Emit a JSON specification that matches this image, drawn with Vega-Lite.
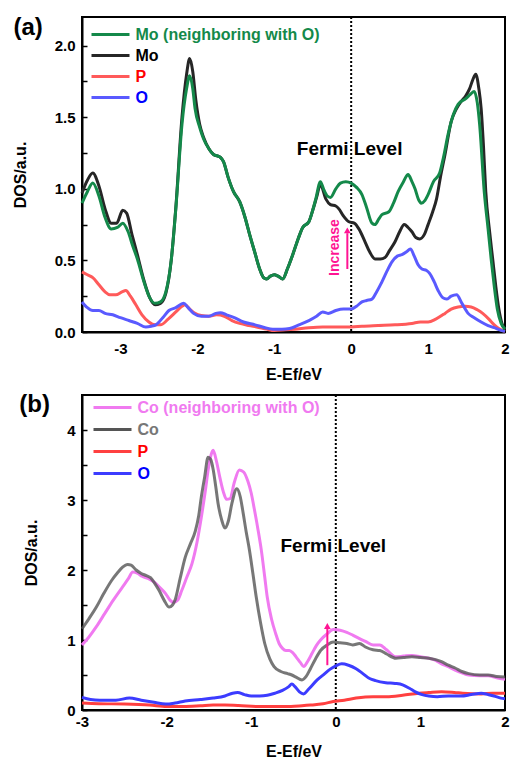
{
"$schema": "https://vega.github.io/schema/vega-lite/v6.json",
"padding": {"left": 11, "top": 15, "right": 4, "bottom": 0},
"spacing": 8,
"resolve": {"scale": {"color": "independent"}, "legend": {"color": "independent"}},
"config": {
  "font": "Liberation Sans",
  "view": {"stroke": "#000", "strokeWidth": 2},
  "axis": {"grid": false, "domainColor": "#000", "domainWidth": 2, "labelFont": "Liberation Sans", "labelFontWeight": "bold", "labelFontSize": 15, "labelColor": "#000", "titleFont": "Liberation Sans", "titleFontWeight": "bold", "titleFontSize": 16, "titleColor": "#000", "tickColor": "#000", "tickWidth": 1.5},
  "legend": {"title": null, "symbolType": "M-2,0L2,0", "symbolStrokeWidth": 3, "symbolSize": 361, "labelFont": "Liberation Sans", "labelFontSize": 16, "labelFontWeight": "bold", "labelLimit": 400, "labelOffset": 14, "padding": 0, "orient": "none"}
},
"datasets": {
"a": [
{"s":"MoO","x":-3.5,"y":0.90},{"s":"MoO","x":-3.43,"y":0.98},{"s":"MoO","x":-3.36,"y":1.04},{"s":"MoO","x":-3.28,"y":0.95},{"s":"MoO","x":-3.2,"y":0.80},{"s":"MoO","x":-3.12,"y":0.72},{"s":"MoO","x":-3.04,"y":0.73},{"s":"MoO","x":-2.97,"y":0.76},{"s":"MoO","x":-2.9,"y":0.70},{"s":"MoO","x":-2.84,"y":0.60},{"s":"MoO","x":-2.78,"y":0.51},{"s":"MoO","x":-2.7,"y":0.36},{"s":"MoO","x":-2.62,"y":0.24},{"s":"MoO","x":-2.55,"y":0.20},{"s":"MoO","x":-2.48,"y":0.21},{"s":"MoO","x":-2.41,"y":0.28},{"s":"MoO","x":-2.34,"y":0.50},{"s":"MoO","x":-2.28,"y":0.86},{"s":"MoO","x":-2.2,"y":1.45},{"s":"MoO","x":-2.14,"y":1.70},{"s":"MoO","x":-2.1,"y":1.79},{"s":"MoO","x":-2.06,"y":1.70},{"s":"MoO","x":-2.03,"y":1.56},{"s":"MoO","x":-1.97,"y":1.43},{"s":"MoO","x":-1.92,"y":1.35},{"s":"MoO","x":-1.85,"y":1.28},{"s":"MoO","x":-1.79,"y":1.24},{"s":"MoO","x":-1.74,"y":1.23},{"s":"MoO","x":-1.7,"y":1.22},{"s":"MoO","x":-1.66,"y":1.19},{"s":"MoO","x":-1.6,"y":1.08},{"s":"MoO","x":-1.53,"y":0.98},{"s":"MoO","x":-1.45,"y":0.91},{"s":"MoO","x":-1.38,"y":0.80},{"s":"MoO","x":-1.32,"y":0.68},{"s":"MoO","x":-1.25,"y":0.55},{"s":"MoO","x":-1.19,"y":0.44},{"s":"MoO","x":-1.14,"y":0.38},{"s":"MoO","x":-1.1,"y":0.37},{"s":"MoO","x":-1.05,"y":0.39},{"s":"MoO","x":-1.0,"y":0.40},{"s":"MoO","x":-0.95,"y":0.39},{"s":"MoO","x":-0.89,"y":0.37},{"s":"MoO","x":-0.83,"y":0.44},{"s":"MoO","x":-0.76,"y":0.54},{"s":"MoO","x":-0.69,"y":0.65},{"s":"MoO","x":-0.63,"y":0.73},{"s":"MoO","x":-0.55,"y":0.77},{"s":"MoO","x":-0.5,"y":0.85},{"s":"MoO","x":-0.46,"y":0.93},{"s":"MoO","x":-0.4,"y":1.05},{"s":"MoO","x":-0.36,"y":1.0},{"s":"MoO","x":-0.31,"y":0.95},{"s":"MoO","x":-0.27,"y":0.94},{"s":"MoO","x":-0.2,"y":1.0},{"s":"MoO","x":-0.14,"y":1.04},{"s":"MoO","x":-0.07,"y":1.05},{"s":"MoO","x":0.0,"y":1.04},{"s":"MoO","x":0.07,"y":1.01},{"s":"MoO","x":0.14,"y":0.96},{"s":"MoO","x":0.2,"y":0.87},{"s":"MoO","x":0.27,"y":0.76},{"s":"MoO","x":0.31,"y":0.75},{"s":"MoO","x":0.36,"y":0.79},{"s":"MoO","x":0.4,"y":0.82},{"s":"MoO","x":0.49,"y":0.84},{"s":"MoO","x":0.55,"y":0.90},{"s":"MoO","x":0.61,"y":0.98},{"s":"MoO","x":0.68,"y":1.05},{"s":"MoO","x":0.74,"y":1.10},{"s":"MoO","x":0.79,"y":1.05},{"s":"MoO","x":0.83,"y":1.0},{"s":"MoO","x":0.88,"y":0.92},{"s":"MoO","x":0.91,"y":0.90},{"s":"MoO","x":0.96,"y":0.92},{"s":"MoO","x":1.0,"y":0.96},{"s":"MoO","x":1.07,"y":1.05},{"s":"MoO","x":1.15,"y":1.11},{"s":"MoO","x":1.2,"y":1.22},{"s":"MoO","x":1.26,"y":1.38},{"s":"MoO","x":1.33,"y":1.52},{"s":"MoO","x":1.39,"y":1.59},{"s":"MoO","x":1.49,"y":1.63},{"s":"MoO","x":1.55,"y":1.66},{"s":"MoO","x":1.6,"y":1.68},{"s":"MoO","x":1.64,"y":1.60},{"s":"MoO","x":1.67,"y":1.45},{"s":"MoO","x":1.73,"y":0.98},{"s":"MoO","x":1.78,"y":0.72},{"s":"MoO","x":1.82,"y":0.51},{"s":"MoO","x":1.86,"y":0.32},{"s":"MoO","x":1.9,"y":0.16},{"s":"MoO","x":1.95,"y":0.06},{"s":"MoO","x":2.0,"y":0.02},
{"s":"Mo","x":-3.5,"y":0.97},{"s":"Mo","x":-3.43,"y":1.06},{"s":"Mo","x":-3.36,"y":1.11},{"s":"Mo","x":-3.28,"y":1.02},{"s":"Mo","x":-3.2,"y":0.86},{"s":"Mo","x":-3.12,"y":0.76},{"s":"Mo","x":-3.05,"y":0.76},{"s":"Mo","x":-2.97,"y":0.85},{"s":"Mo","x":-2.92,"y":0.83},{"s":"Mo","x":-2.85,"y":0.68},{"s":"Mo","x":-2.78,"y":0.54},{"s":"Mo","x":-2.7,"y":0.37},{"s":"Mo","x":-2.62,"y":0.24},{"s":"Mo","x":-2.55,"y":0.19},{"s":"Mo","x":-2.48,"y":0.20},{"s":"Mo","x":-2.41,"y":0.27},{"s":"Mo","x":-2.34,"y":0.50},{"s":"Mo","x":-2.28,"y":0.87},{"s":"Mo","x":-2.2,"y":1.50},{"s":"Mo","x":-2.14,"y":1.80},{"s":"Mo","x":-2.1,"y":1.91},{"s":"Mo","x":-2.06,"y":1.82},{"s":"Mo","x":-2.02,"y":1.62},{"s":"Mo","x":-1.97,"y":1.45},{"s":"Mo","x":-1.92,"y":1.36},{"s":"Mo","x":-1.85,"y":1.28},{"s":"Mo","x":-1.79,"y":1.24},{"s":"Mo","x":-1.74,"y":1.23},{"s":"Mo","x":-1.7,"y":1.22},{"s":"Mo","x":-1.66,"y":1.19},{"s":"Mo","x":-1.6,"y":1.08},{"s":"Mo","x":-1.53,"y":0.98},{"s":"Mo","x":-1.45,"y":0.91},{"s":"Mo","x":-1.38,"y":0.80},{"s":"Mo","x":-1.32,"y":0.68},{"s":"Mo","x":-1.25,"y":0.55},{"s":"Mo","x":-1.19,"y":0.44},{"s":"Mo","x":-1.14,"y":0.38},{"s":"Mo","x":-1.1,"y":0.37},{"s":"Mo","x":-1.05,"y":0.39},{"s":"Mo","x":-1.0,"y":0.40},{"s":"Mo","x":-0.95,"y":0.39},{"s":"Mo","x":-0.89,"y":0.37},{"s":"Mo","x":-0.83,"y":0.44},{"s":"Mo","x":-0.76,"y":0.54},{"s":"Mo","x":-0.69,"y":0.65},{"s":"Mo","x":-0.63,"y":0.73},{"s":"Mo","x":-0.55,"y":0.77},{"s":"Mo","x":-0.5,"y":0.85},{"s":"Mo","x":-0.45,"y":0.94},{"s":"Mo","x":-0.4,"y":1.03},{"s":"Mo","x":-0.33,"y":0.93},{"s":"Mo","x":-0.27,"y":0.89},{"s":"Mo","x":-0.2,"y":0.88},{"s":"Mo","x":-0.16,"y":0.86},{"s":"Mo","x":-0.1,"y":0.81},{"s":"Mo","x":-0.03,"y":0.77},{"s":"Mo","x":0.04,"y":0.76},{"s":"Mo","x":0.1,"y":0.72},{"s":"Mo","x":0.18,"y":0.63},{"s":"Mo","x":0.24,"y":0.56},{"s":"Mo","x":0.31,"y":0.51},{"s":"Mo","x":0.38,"y":0.51},{"s":"Mo","x":0.44,"y":0.52},{"s":"Mo","x":0.5,"y":0.57},{"s":"Mo","x":0.57,"y":0.63},{"s":"Mo","x":0.63,"y":0.70},{"s":"Mo","x":0.69,"y":0.75},{"s":"Mo","x":0.74,"y":0.73},{"s":"Mo","x":0.79,"y":0.70},{"s":"Mo","x":0.84,"y":0.66},{"s":"Mo","x":0.89,"y":0.65},{"s":"Mo","x":0.95,"y":0.68},{"s":"Mo","x":1.0,"y":0.75},{"s":"Mo","x":1.06,"y":0.84},{"s":"Mo","x":1.11,"y":0.93},{"s":"Mo","x":1.16,"y":1.08},{"s":"Mo","x":1.22,"y":1.24},{"s":"Mo","x":1.3,"y":1.47},{"s":"Mo","x":1.37,"y":1.56},{"s":"Mo","x":1.43,"y":1.61},{"s":"Mo","x":1.49,"y":1.65},{"s":"Mo","x":1.54,"y":1.70},{"s":"Mo","x":1.58,"y":1.76},{"s":"Mo","x":1.62,"y":1.80},{"s":"Mo","x":1.66,"y":1.70},{"s":"Mo","x":1.69,"y":1.56},{"s":"Mo","x":1.72,"y":1.30},{"s":"Mo","x":1.75,"y":0.98},{"s":"Mo","x":1.8,"y":0.70},{"s":"Mo","x":1.84,"y":0.51},{"s":"Mo","x":1.88,"y":0.32},{"s":"Mo","x":1.92,"y":0.16},{"s":"Mo","x":1.96,"y":0.06},{"s":"Mo","x":2.0,"y":0.02},
{"s":"O","x":-3.5,"y":0.21},{"s":"O","x":-3.43,"y":0.17},{"s":"O","x":-3.36,"y":0.15},{"s":"O","x":-3.28,"y":0.15},{"s":"O","x":-3.2,"y":0.13},{"s":"O","x":-3.1,"y":0.12},{"s":"O","x":-3.0,"y":0.10},{"s":"O","x":-2.89,"y":0.08},{"s":"O","x":-2.78,"y":0.06},{"s":"O","x":-2.67,"y":0.035},{"s":"O","x":-2.6,"y":0.04},{"s":"O","x":-2.54,"y":0.05},{"s":"O","x":-2.45,"y":0.10},{"s":"O","x":-2.37,"y":0.15},{"s":"O","x":-2.28,"y":0.17},{"s":"O","x":-2.18,"y":0.20},{"s":"O","x":-2.12,"y":0.17},{"s":"O","x":-2.05,"y":0.13},{"s":"O","x":-1.95,"y":0.11},{"s":"O","x":-1.85,"y":0.11},{"s":"O","x":-1.76,"y":0.13},{"s":"O","x":-1.7,"y":0.135},{"s":"O","x":-1.62,"y":0.12},{"s":"O","x":-1.52,"y":0.10},{"s":"O","x":-1.4,"y":0.07},{"s":"O","x":-1.25,"y":0.05},{"s":"O","x":-1.12,"y":0.03},{"s":"O","x":-1.02,"y":0.02},{"s":"O","x":-0.9,"y":0.02},{"s":"O","x":-0.8,"y":0.025},{"s":"O","x":-0.68,"y":0.05},{"s":"O","x":-0.55,"y":0.08},{"s":"O","x":-0.45,"y":0.11},{"s":"O","x":-0.37,"y":0.14},{"s":"O","x":-0.3,"y":0.13},{"s":"O","x":-0.2,"y":0.15},{"s":"O","x":-0.1,"y":0.16},{"s":"O","x":0.0,"y":0.16},{"s":"O","x":0.07,"y":0.18},{"s":"O","x":0.14,"y":0.21},{"s":"O","x":0.2,"y":0.22},{"s":"O","x":0.27,"y":0.23},{"s":"O","x":0.33,"y":0.28},{"s":"O","x":0.4,"y":0.35},{"s":"O","x":0.47,"y":0.43},{"s":"O","x":0.53,"y":0.49},{"s":"O","x":0.6,"y":0.53},{"s":"O","x":0.66,"y":0.54},{"s":"O","x":0.72,"y":0.56},{"s":"O","x":0.77,"y":0.58},{"s":"O","x":0.82,"y":0.53},{"s":"O","x":0.87,"y":0.47},{"s":"O","x":0.92,"y":0.44},{"s":"O","x":0.98,"y":0.43},{"s":"O","x":1.02,"y":0.41},{"s":"O","x":1.08,"y":0.35},{"s":"O","x":1.13,"y":0.29},{"s":"O","x":1.19,"y":0.24},{"s":"O","x":1.24,"y":0.23},{"s":"O","x":1.3,"y":0.25},{"s":"O","x":1.37,"y":0.26},{"s":"O","x":1.44,"y":0.20},{"s":"O","x":1.52,"y":0.13},{"s":"O","x":1.6,"y":0.10},{"s":"O","x":1.69,"y":0.07},{"s":"O","x":1.78,"y":0.045},{"s":"O","x":1.86,"y":0.03},{"s":"O","x":1.93,"y":0.015},{"s":"O","x":2.0,"y":0.005},
{"s":"P","x":-3.5,"y":0.42},{"s":"P","x":-3.43,"y":0.40},{"s":"P","x":-3.36,"y":0.38},{"s":"P","x":-3.28,"y":0.33},{"s":"P","x":-3.2,"y":0.28},{"s":"P","x":-3.14,"y":0.26},{"s":"P","x":-3.06,"y":0.26},{"s":"P","x":-2.98,"y":0.28},{"s":"P","x":-2.93,"y":0.29},{"s":"P","x":-2.87,"y":0.25},{"s":"P","x":-2.8,"y":0.19},{"s":"P","x":-2.72,"y":0.12},{"s":"P","x":-2.63,"y":0.07},{"s":"P","x":-2.55,"y":0.05},{"s":"P","x":-2.48,"y":0.05},{"s":"P","x":-2.38,"y":0.09},{"s":"P","x":-2.28,"y":0.14},{"s":"P","x":-2.2,"y":0.18},{"s":"P","x":-2.16,"y":0.19},{"s":"P","x":-2.1,"y":0.16},{"s":"P","x":-2.03,"y":0.13},{"s":"P","x":-1.95,"y":0.115},{"s":"P","x":-1.85,"y":0.11},{"s":"P","x":-1.75,"y":0.12},{"s":"P","x":-1.65,"y":0.11},{"s":"P","x":-1.55,"y":0.08},{"s":"P","x":-1.45,"y":0.06},{"s":"P","x":-1.33,"y":0.045},{"s":"P","x":-1.23,"y":0.035},{"s":"P","x":-1.1,"y":0.02},{"s":"P","x":-1.0,"y":0.01},{"s":"P","x":-0.85,"y":0.015},{"s":"P","x":-0.73,"y":0.02},{"s":"P","x":-0.55,"y":0.03},{"s":"P","x":-0.37,"y":0.035},{"s":"P","x":-0.2,"y":0.035},{"s":"P","x":0.0,"y":0.035},{"s":"P","x":0.14,"y":0.04},{"s":"P","x":0.35,"y":0.045},{"s":"P","x":0.57,"y":0.05},{"s":"P","x":0.79,"y":0.06},{"s":"P","x":0.9,"y":0.07},{"s":"P","x":1.0,"y":0.07},{"s":"P","x":1.1,"y":0.09},{"s":"P","x":1.22,"y":0.13},{"s":"P","x":1.3,"y":0.16},{"s":"P","x":1.39,"y":0.175},{"s":"P","x":1.48,"y":0.18},{"s":"P","x":1.56,"y":0.175},{"s":"P","x":1.64,"y":0.155},{"s":"P","x":1.71,"y":0.13},{"s":"P","x":1.79,"y":0.09},{"s":"P","x":1.86,"y":0.05},{"s":"P","x":1.93,"y":0.02},{"s":"P","x":2.0,"y":0.005}
],
"b": [
{"s":"CoO","x":-3.0,"y":0.93},{"s":"CoO","x":-2.92,"y":1.04},{"s":"CoO","x":-2.83,"y":1.19},{"s":"CoO","x":-2.73,"y":1.38},{"s":"CoO","x":-2.63,"y":1.57},{"s":"CoO","x":-2.52,"y":1.76},{"s":"CoO","x":-2.45,"y":1.88},{"s":"CoO","x":-2.4,"y":1.97},{"s":"CoO","x":-2.34,"y":1.95},{"s":"CoO","x":-2.29,"y":1.91},{"s":"CoO","x":-2.22,"y":1.88},{"s":"CoO","x":-2.15,"y":1.83},{"s":"CoO","x":-2.08,"y":1.75},{"s":"CoO","x":-2.01,"y":1.66},{"s":"CoO","x":-1.96,"y":1.57},{"s":"CoO","x":-1.92,"y":1.54},{"s":"CoO","x":-1.87,"y":1.57},{"s":"CoO","x":-1.82,"y":1.71},{"s":"CoO","x":-1.76,"y":1.90},{"s":"CoO","x":-1.7,"y":2.09},{"s":"CoO","x":-1.64,"y":2.40},{"s":"CoO","x":-1.59,"y":2.75},{"s":"CoO","x":-1.54,"y":3.15},{"s":"CoO","x":-1.51,"y":3.42},{"s":"CoO","x":-1.48,"y":3.62},{"s":"CoO","x":-1.45,"y":3.71},{"s":"CoO","x":-1.41,"y":3.55},{"s":"CoO","x":-1.37,"y":3.32},{"s":"CoO","x":-1.33,"y":3.12},{"s":"CoO","x":-1.29,"y":3.01},{"s":"CoO","x":-1.25,"y":3.02},{"s":"CoO","x":-1.2,"y":3.25},{"s":"CoO","x":-1.14,"y":3.43},{"s":"CoO","x":-1.09,"y":3.40},{"s":"CoO","x":-1.04,"y":3.27},{"s":"CoO","x":-1.0,"y":3.10},{"s":"CoO","x":-0.96,"y":2.85},{"s":"CoO","x":-0.92,"y":2.58},{"s":"CoO","x":-0.88,"y":2.28},{"s":"CoO","x":-0.84,"y":1.90},{"s":"CoO","x":-0.81,"y":1.61},{"s":"CoO","x":-0.76,"y":1.30},{"s":"CoO","x":-0.71,"y":1.09},{"s":"CoO","x":-0.67,"y":0.95},{"s":"CoO","x":-0.63,"y":0.88},{"s":"CoO","x":-0.59,"y":0.85},{"s":"CoO","x":-0.55,"y":0.85},{"s":"CoO","x":-0.51,"y":0.82},{"s":"CoO","x":-0.47,"y":0.76},{"s":"CoO","x":-0.42,"y":0.68},{"s":"CoO","x":-0.38,"y":0.62},{"s":"CoO","x":-0.33,"y":0.70},{"s":"CoO","x":-0.28,"y":0.81},{"s":"CoO","x":-0.23,"y":0.92},{"s":"CoO","x":-0.18,"y":1.0},{"s":"CoO","x":-0.1,"y":1.09},{"s":"CoO","x":-0.03,"y":1.15},{"s":"CoO","x":0.05,"y":1.14},{"s":"CoO","x":0.13,"y":1.11},{"s":"CoO","x":0.2,"y":1.07},{"s":"CoO","x":0.28,"y":1.02},{"s":"CoO","x":0.35,"y":0.98},{"s":"CoO","x":0.44,"y":0.93},{"s":"CoO","x":0.52,"y":0.93},{"s":"CoO","x":0.6,"y":0.86},{"s":"CoO","x":0.71,"y":0.76},{"s":"CoO","x":0.8,"y":0.77},{"s":"CoO","x":0.9,"y":0.78},{"s":"CoO","x":1.0,"y":0.76},{"s":"CoO","x":1.1,"y":0.74},{"s":"CoO","x":1.18,"y":0.71},{"s":"CoO","x":1.25,"y":0.66},{"s":"CoO","x":1.33,"y":0.62},{"s":"CoO","x":1.41,"y":0.57},{"s":"CoO","x":1.49,"y":0.53},{"s":"CoO","x":1.57,"y":0.50},{"s":"CoO","x":1.7,"y":0.49},{"s":"CoO","x":1.8,"y":0.49},{"s":"CoO","x":1.9,"y":0.46},{"s":"CoO","x":2.0,"y":0.44},
{"s":"Co","x":-3.0,"y":1.16},{"s":"Co","x":-2.92,"y":1.30},{"s":"Co","x":-2.83,"y":1.47},{"s":"Co","x":-2.74,"y":1.67},{"s":"Co","x":-2.65,"y":1.85},{"s":"Co","x":-2.58,"y":1.96},{"s":"Co","x":-2.52,"y":2.04},{"s":"Co","x":-2.46,"y":2.08},{"s":"Co","x":-2.42,"y":2.07},{"s":"Co","x":-2.36,"y":2.0},{"s":"Co","x":-2.3,"y":1.95},{"s":"Co","x":-2.24,"y":1.92},{"s":"Co","x":-2.19,"y":1.89},{"s":"Co","x":-2.14,"y":1.81},{"s":"Co","x":-2.09,"y":1.71},{"s":"Co","x":-2.03,"y":1.57},{"s":"Co","x":-1.97,"y":1.47},{"s":"Co","x":-1.93,"y":1.50},{"s":"Co","x":-1.9,"y":1.57},{"s":"Co","x":-1.84,"y":1.88},{"s":"Co","x":-1.78,"y":2.18},{"s":"Co","x":-1.72,"y":2.37},{"s":"Co","x":-1.66,"y":2.56},{"s":"Co","x":-1.62,"y":2.78},{"s":"Co","x":-1.59,"y":3.04},{"s":"Co","x":-1.55,"y":3.33},{"s":"Co","x":-1.51,"y":3.61},{"s":"Co","x":-1.48,"y":3.58},{"s":"Co","x":-1.45,"y":3.44},{"s":"Co","x":-1.42,"y":3.20},{"s":"Co","x":-1.39,"y":2.94},{"s":"Co","x":-1.35,"y":2.72},{"s":"Co","x":-1.31,"y":2.60},{"s":"Co","x":-1.27,"y":2.70},{"s":"Co","x":-1.23,"y":2.94},{"s":"Co","x":-1.17,"y":3.16},{"s":"Co","x":-1.13,"y":3.05},{"s":"Co","x":-1.1,"y":2.85},{"s":"Co","x":-1.06,"y":2.55},{"s":"Co","x":-1.02,"y":2.28},{"s":"Co","x":-0.98,"y":1.95},{"s":"Co","x":-0.94,"y":1.61},{"s":"Co","x":-0.89,"y":1.25},{"s":"Co","x":-0.84,"y":0.95},{"s":"Co","x":-0.78,"y":0.73},{"s":"Co","x":-0.73,"y":0.62},{"s":"Co","x":-0.65,"y":0.55},{"s":"Co","x":-0.57,"y":0.52},{"s":"Co","x":-0.52,"y":0.50},{"s":"Co","x":-0.47,"y":0.47},{"s":"Co","x":-0.4,"y":0.43},{"s":"Co","x":-0.35,"y":0.48},{"s":"Co","x":-0.3,"y":0.59},{"s":"Co","x":-0.24,"y":0.73},{"s":"Co","x":-0.18,"y":0.85},{"s":"Co","x":-0.1,"y":0.93},{"s":"Co","x":-0.03,"y":0.97},{"s":"Co","x":0.05,"y":0.96},{"s":"Co","x":0.13,"y":0.95},{"s":"Co","x":0.2,"y":0.93},{"s":"Co","x":0.28,"y":0.95},{"s":"Co","x":0.35,"y":0.90},{"s":"Co","x":0.44,"y":0.86},{"s":"Co","x":0.52,"y":0.85},{"s":"Co","x":0.6,"y":0.80},{"s":"Co","x":0.71,"y":0.74},{"s":"Co","x":0.8,"y":0.75},{"s":"Co","x":0.9,"y":0.76},{"s":"Co","x":1.0,"y":0.75},{"s":"Co","x":1.1,"y":0.74},{"s":"Co","x":1.18,"y":0.72},{"s":"Co","x":1.25,"y":0.69},{"s":"Co","x":1.33,"y":0.64},{"s":"Co","x":1.41,"y":0.60},{"s":"Co","x":1.49,"y":0.55},{"s":"Co","x":1.57,"y":0.52},{"s":"Co","x":1.7,"y":0.50},{"s":"Co","x":1.8,"y":0.50},{"s":"Co","x":1.9,"y":0.48},{"s":"Co","x":2.0,"y":0.47},
{"s":"O","x":-3.0,"y":0.18},{"s":"O","x":-2.9,"y":0.15},{"s":"O","x":-2.79,"y":0.14},{"s":"O","x":-2.6,"y":0.14},{"s":"O","x":-2.44,"y":0.17},{"s":"O","x":-2.3,"y":0.14},{"s":"O","x":-2.15,"y":0.11},{"s":"O","x":-2.01,"y":0.085},{"s":"O","x":-1.9,"y":0.10},{"s":"O","x":-1.78,"y":0.13},{"s":"O","x":-1.6,"y":0.15},{"s":"O","x":-1.45,"y":0.17},{"s":"O","x":-1.31,"y":0.20},{"s":"O","x":-1.22,"y":0.24},{"s":"O","x":-1.16,"y":0.25},{"s":"O","x":-1.08,"y":0.22},{"s":"O","x":-1.0,"y":0.20},{"s":"O","x":-0.9,"y":0.20},{"s":"O","x":-0.81,"y":0.21},{"s":"O","x":-0.72,"y":0.24},{"s":"O","x":-0.63,"y":0.28},{"s":"O","x":-0.56,"y":0.33},{"s":"O","x":-0.52,"y":0.37},{"s":"O","x":-0.48,"y":0.33},{"s":"O","x":-0.43,"y":0.26},{"s":"O","x":-0.38,"y":0.23},{"s":"O","x":-0.32,"y":0.30},{"s":"O","x":-0.22,"y":0.43},{"s":"O","x":-0.14,"y":0.51},{"s":"O","x":-0.07,"y":0.58},{"s":"O","x":0.0,"y":0.63},{"s":"O","x":0.07,"y":0.66},{"s":"O","x":0.15,"y":0.64},{"s":"O","x":0.24,"y":0.59},{"s":"O","x":0.32,"y":0.52},{"s":"O","x":0.4,"y":0.45},{"s":"O","x":0.47,"y":0.42},{"s":"O","x":0.59,"y":0.39},{"s":"O","x":0.7,"y":0.38},{"s":"O","x":0.79,"y":0.36},{"s":"O","x":0.87,"y":0.31},{"s":"O","x":0.94,"y":0.26},{"s":"O","x":1.02,"y":0.22},{"s":"O","x":1.1,"y":0.20},{"s":"O","x":1.2,"y":0.19},{"s":"O","x":1.33,"y":0.20},{"s":"O","x":1.48,"y":0.20},{"s":"O","x":1.6,"y":0.22},{"s":"O","x":1.72,"y":0.24},{"s":"O","x":1.8,"y":0.22},{"s":"O","x":1.87,"y":0.20},{"s":"O","x":1.95,"y":0.17},{"s":"O","x":2.0,"y":0.16},
{"s":"P","x":-3.0,"y":0.10},{"s":"P","x":-2.8,"y":0.09},{"s":"P","x":-2.5,"y":0.085},{"s":"P","x":-2.2,"y":0.07},{"s":"P","x":-2.0,"y":0.05},{"s":"P","x":-1.8,"y":0.05},{"s":"P","x":-1.6,"y":0.06},{"s":"P","x":-1.45,"y":0.07},{"s":"P","x":-1.31,"y":0.07},{"s":"P","x":-1.15,"y":0.065},{"s":"P","x":-0.92,"y":0.05},{"s":"P","x":-0.7,"y":0.05},{"s":"P","x":-0.53,"y":0.05},{"s":"P","x":-0.4,"y":0.06},{"s":"P","x":-0.3,"y":0.07},{"s":"P","x":-0.15,"y":0.09},{"s":"P","x":-0.03,"y":0.12},{"s":"P","x":0.1,"y":0.14},{"s":"P","x":0.24,"y":0.17},{"s":"P","x":0.44,"y":0.19},{"s":"P","x":0.6,"y":0.19},{"s":"P","x":0.79,"y":0.21},{"s":"P","x":0.98,"y":0.24},{"s":"P","x":1.1,"y":0.25},{"s":"P","x":1.25,"y":0.26},{"s":"P","x":1.4,"y":0.25},{"s":"P","x":1.5,"y":0.24},{"s":"P","x":1.72,"y":0.23},{"s":"P","x":1.85,"y":0.24},{"s":"P","x":2.0,"y":0.24}
]
},
"vconcat": [
{
  "width": 423, "height": 315,
  "data": {"name": "a"},
  "encoding": {
    "x": {"field": "x", "type": "quantitative", "scale": {"domain": [-3.5, 2], "nice": false, "zero": false},
      "axis": {"values": [-3,-2,-1,0,1,2], "labelExpr": "'' + datum.value", "ticks": false, "labelPadding": 9, "labelFlush": false, "title": "E-Ef/eV", "titlePadding": 10,
        "encode": {"labels": {"update": {"align": {"signal": "datum.value == 2 ? 'right' : 'center'"}}}}}},
    "y": {"field": "y", "type": "quantitative", "scale": {"domain": [0, 2.2], "nice": false},
      "axis": {"values": [0,0.25,0.5,0.75,1,1.25,1.5,1.75,2], "labelExpr": "datum.value % 0.5 === 0 ? format(datum.value, '.1f') : ''", "ticks": false, "grid": true, "gridColor": "#000", "gridWidth": 1.5, "gridDash": [5, 2000], "labelPadding": 7, "title": "DOS/a.u.", "titlePadding": 26}},
    "color": {"field": "s", "type": "nominal",
      "scale": {"domain": ["MoO","Mo","P","O"], "range": ["#14894a","#262626","#ff5a5a","#5a5aff"]},
      "legend": {"legendX": 17.5, "legendY": 6.5, "rowPadding": 2, "labelExpr": "datum.label == 'MoO' ? 'Mo (neighboring with O)' : datum.label",
        "encode": {"labels": {"update": {"fill": {"signal": "datum.value == 'MoO' ? '#14894a' : datum.value == 'Mo' ? '#000000' : datum.value == 'P' ? '#ff0000' : '#0000ff'"}}},
                   "symbols": {"update": {"stroke": {"signal": "datum.value == 'MoO' ? '#14894a' : datum.value == 'Mo' ? '#000000' : datum.value == 'P' ? '#ff0000' : '#0000ff'"}}}}}}
  },
  "layer": [
    {"transform": [{"filter": "datum.s == 'P' && datum.x == 2"}], "mark": {"type": "rule", "strokeDash": [2, 2], "strokeWidth": 2, "color": "#000"}, "encoding": {"x": {"datum": 0}, "y": null, "color": null}},
    {"transform": [{"filter": "datum.s == 'P'"}], "mark": {"type": "line", "interpolate": "monotone", "strokeWidth": 3}},
    {"transform": [{"filter": "datum.s == 'O'"}], "mark": {"type": "line", "interpolate": "monotone", "strokeWidth": 3}},
    {"transform": [{"filter": "datum.s == 'Mo'"}], "mark": {"type": "line", "interpolate": "monotone", "strokeWidth": 3}},
    {"transform": [{"filter": "datum.s == 'MoO'"}], "mark": {"type": "line", "interpolate": "monotone", "strokeWidth": 3}},
    {"transform": [{"filter": "datum.s == 'P' && datum.x == 2"}], "mark": {"type": "text", "fontSize": 19, "fontWeight": "bold", "font": "Liberation Sans", "align": "center", "baseline": "middle", "color": "#000"},
     "encoding": {"x": {"datum": -0.02}, "y": {"datum": 1.28}, "text": {"value": "Fermi Level"}, "color": null}},
    {"transform": [{"filter": "datum.s == 'P' && datum.x == 2"}], "mark": {"type": "text", "fontSize": 14, "fontWeight": "bold", "font": "Liberation Sans", "align": "center", "baseline": "middle", "angle": 270, "color": "#ff1493"},
     "encoding": {"x": {"datum": -0.21}, "y": {"datum": 0.59}, "text": {"value": "Increase"}, "color": null}},
    {"transform": [{"filter": "datum.s == 'P' && datum.x == 2"}], "mark": {"type": "rule", "strokeWidth": 2, "color": "#ff1493"},
     "encoding": {"x": {"datum": -0.05}, "y": {"datum": 0.44}, "y2": {"datum": 0.69}, "color": null}},
    {"transform": [{"filter": "datum.s == 'P' && datum.x == 2"}], "mark": {"type": "point", "shape": "triangle-up", "filled": true, "size": 45, "opacity": 1, "color": "#ff1493"},
     "encoding": {"x": {"datum": -0.05}, "y": {"datum": 0.71}, "color": null}},
    {"transform": [{"filter": "datum.s == 'P' && datum.x == 2"}], "mark": {"type": "text", "fontSize": 24, "fontWeight": "bold", "font": "Liberation Sans", "align": "center", "baseline": "middle", "color": "#000"},
     "encoding": {"x": {"datum": -4.2}, "y": {"datum": 2.12}, "text": {"value": "(a)"}, "color": null}}
  ]
},
{
  "width": 423, "height": 315,
  "data": {"name": "b"},
  "encoding": {
    "x": {"field": "x", "type": "quantitative", "scale": {"domain": [-3, 2], "nice": false, "zero": false},
      "axis": {"values": [-3,-2,-1,0,1,2], "labelExpr": "'' + datum.value", "ticks": false, "labelPadding": 4, "labelFlush": false, "title": "E-Ef/eV", "titlePadding": 14,
        "encode": {"labels": {"update": {"align": {"signal": "datum.value == 2 ? 'right' : 'center'"}}}}}},
    "y": {"field": "y", "type": "quantitative", "scale": {"domain": [0, 4.5], "nice": false},
      "axis": {"values": [0,0.5,1,1.5,2,2.5,3,3.5,4], "labelExpr": "datum.value % 1 === 0 ? '' + datum.value : ''", "ticks": false, "grid": true, "gridColor": "#000", "gridWidth": 1.5, "gridDash": [5, 2000], "labelPadding": 7, "title": "DOS/a.u.", "titlePadding": 27}},
    "color": {"field": "s", "type": "nominal",
      "scale": {"domain": ["CoO","Co","P","O"], "range": ["#f07af0","#555555","#ff4040","#3c3cff"]},
      "legend": {"legendX": 19.5, "legendY": 1.5, "rowPadding": 3, "labelExpr": "datum.label == 'CoO' ? 'Co (neighboring with O)' : datum.label",
        "encode": {"labels": {"update": {"fill": {"signal": "datum.value == 'CoO' ? '#f07af0' : datum.value == 'Co' ? '#777777' : datum.value == 'P' ? '#ff0000' : '#0000ff'"}}},
                   "symbols": {"update": {"stroke": {"signal": "datum.value == 'CoO' ? '#f07af0' : datum.value == 'Co' ? '#555555' : datum.value == 'P' ? '#ff0000' : '#0000ff'"}}}}}}
  },
  "layer": [
    {"transform": [{"filter": "datum.s == 'P' && datum.x == 2"}], "mark": {"type": "rule", "strokeDash": [2, 2], "strokeWidth": 2, "color": "#000"}, "encoding": {"x": {"datum": 0}, "y": null, "color": null}},
    {"transform": [{"filter": "datum.s == 'P'"}], "mark": {"type": "line", "interpolate": "monotone", "strokeWidth": 3}},
    {"transform": [{"filter": "datum.s == 'O'"}], "mark": {"type": "line", "interpolate": "monotone", "strokeWidth": 3}},
    {"transform": [{"filter": "datum.s == 'CoO'"}], "mark": {"type": "line", "interpolate": "monotone", "strokeWidth": 3}},
    {"transform": [{"filter": "datum.s == 'Co'"}], "mark": {"type": "line", "interpolate": "monotone", "strokeWidth": 3, "opacity": 0.8}},
    {"transform": [{"filter": "datum.s == 'P' && datum.x == 2"}], "mark": {"type": "text", "fontSize": 19, "fontWeight": "bold", "font": "Liberation Sans", "align": "center", "baseline": "middle", "color": "#000"},
     "encoding": {"x": {"datum": -0.03}, "y": {"datum": 2.35}, "text": {"value": "Fermi Level"}, "color": null}},
    {"transform": [{"filter": "datum.s == 'P' && datum.x == 2"}], "mark": {"type": "rule", "strokeWidth": 2, "color": "#ff1493"},
     "encoding": {"x": {"datum": -0.1}, "y": {"datum": 0.64}, "y2": {"datum": 1.18}, "color": null}},
    {"transform": [{"filter": "datum.s == 'P' && datum.x == 2"}], "mark": {"type": "point", "shape": "triangle-up", "filled": true, "size": 45, "opacity": 1, "color": "#ff1493"},
     "encoding": {"x": {"datum": -0.1}, "y": {"datum": 1.2}, "color": null}},
    {"transform": [{"filter": "datum.s == 'P' && datum.x == 2"}], "mark": {"type": "text", "fontSize": 24, "fontWeight": "bold", "font": "Liberation Sans", "align": "center", "baseline": "middle", "color": "#000"},
     "encoding": {"x": {"datum": -3.56}, "y": {"datum": 4.36}, "text": {"value": "(b)"}, "color": null}}
  ]
}
]
}
